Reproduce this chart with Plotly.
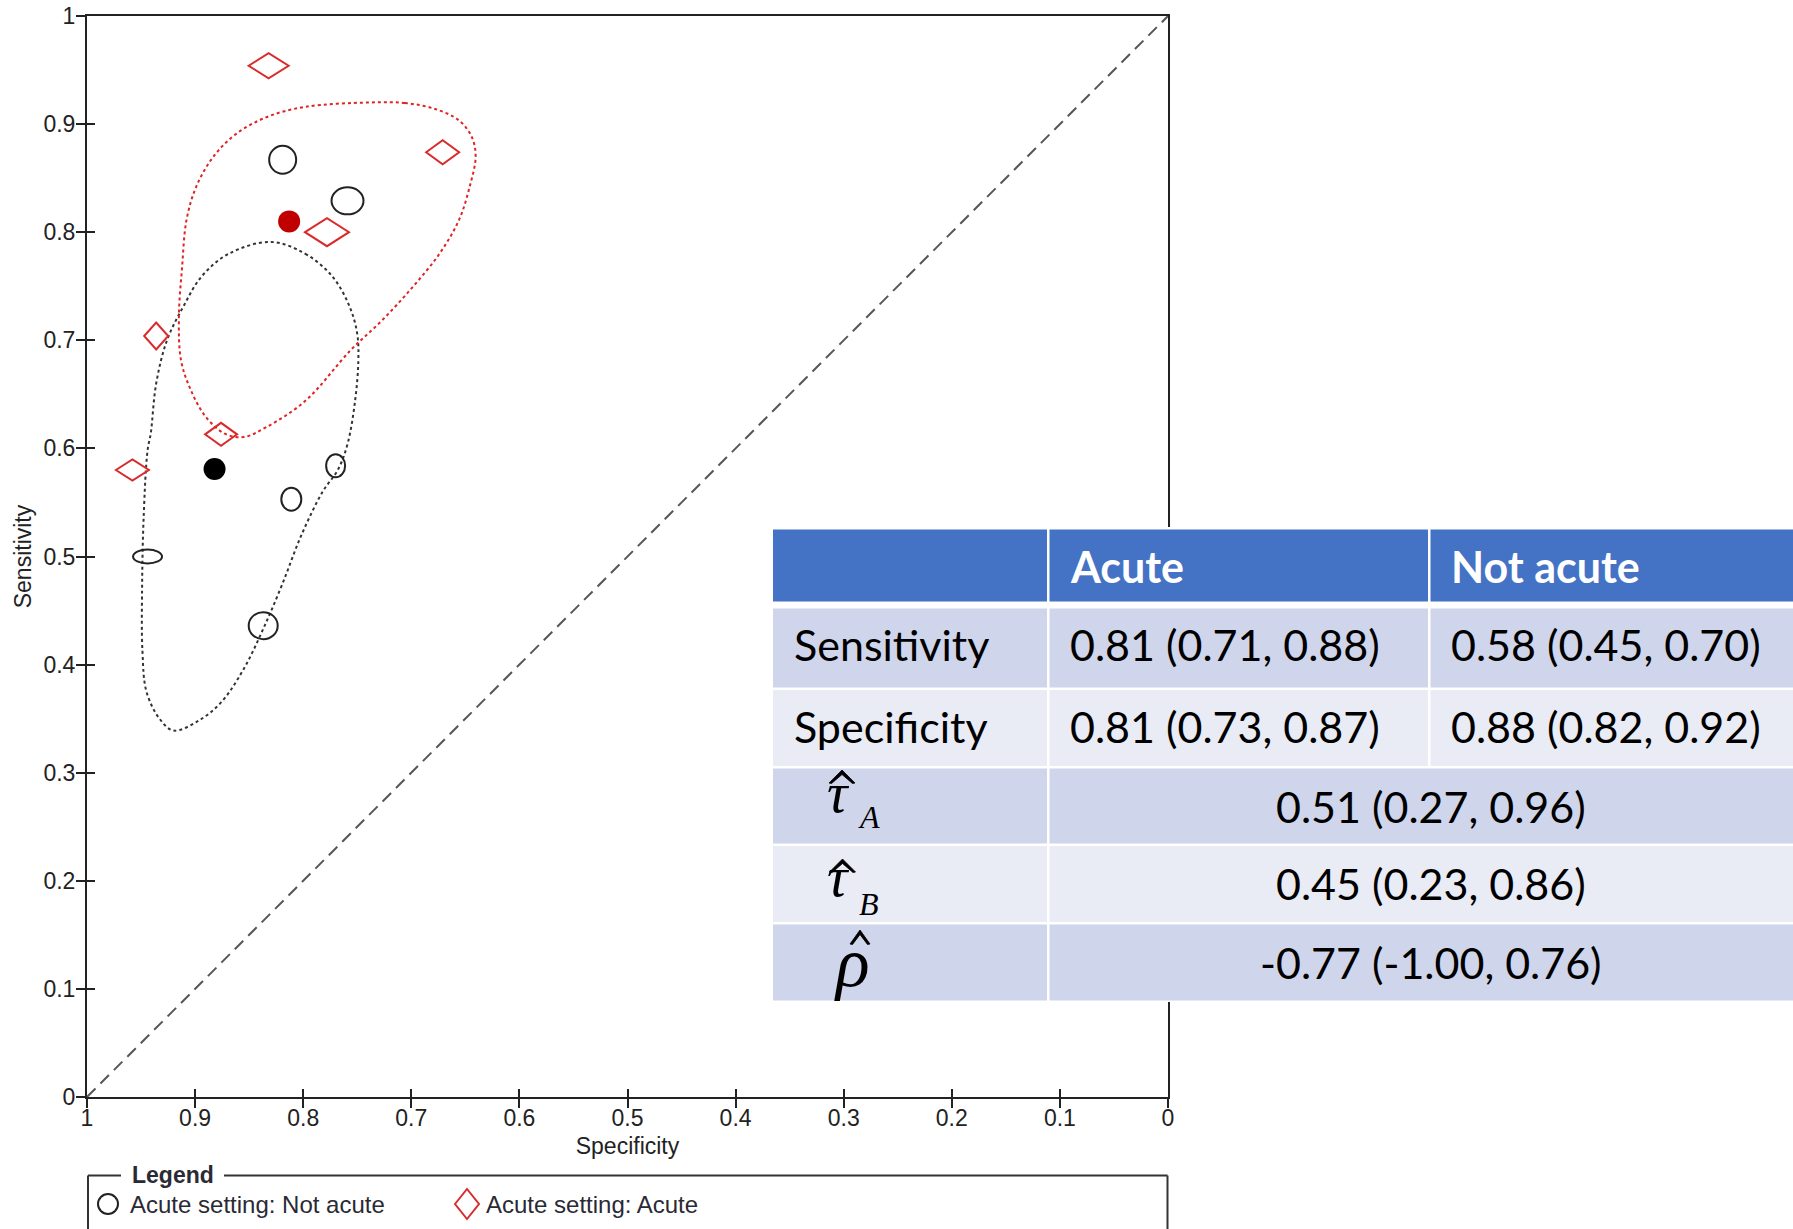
import plotly.graph_objects as go

# ---------------- data ----------------
tick_vals = [0, 0.1, 0.2, 0.3, 0.4, 0.5, 0.6, 0.7, 0.8, 0.9, 1.0]
tick_text = ["0", "0.1", "0.2", "0.3", "0.4", "0.5", "0.6", "0.7", "0.8", "0.9", "1"]

# individual studies, setting = Not acute (open ellipses)
not_acute_spec = [0.819, 0.759, 0.770, 0.811, 0.944, 0.837]
not_acute_sens = [0.867, 0.829, 0.584, 0.553, 0.500, 0.436]

# individual studies, setting = Acute (open diamonds)
acute_spec = [0.832, 0.671, 0.778, 0.936, 0.876, 0.958]
acute_sens = [0.954, 0.874, 0.800, 0.704, 0.613, 0.580]

# summary points
summary_names = ["Summary: Not acute", "Summary: Acute"]
summary_spec = [0.882, 0.813]
summary_sens = [0.581, 0.810]

# 95% confidence regions
region_not_acute_spec = [0.830, 0.798, 0.773, 0.757, 0.750, 0.749, 0.752, 0.759, 0.768, 0.782,
                         0.802, 0.8195, 0.837, 0.855, 0.876, 0.897, 0.920, 0.933, 0.945, 0.9487,
                         0.949, 0.9476, 0.944, 0.941, 0.936, 0.926, 0.911, 0.894, 0.869]
region_not_acute_sens = [0.791, 0.780, 0.759, 0.731, 0.706, 0.681, 0.644, 0.604, 0.580, 0.560,
                         0.519, 0.474, 0.433, 0.396, 0.365, 0.348, 0.339, 0.350, 0.375, 0.412,
                         0.474, 0.536, 0.598, 0.614, 0.660, 0.700, 0.731, 0.759, 0.780]

region_acute_spec = [0.738, 0.706, 0.678, 0.656, 0.644, 0.6405, 0.646, 0.656, 0.674, 0.699,
                     0.727, 0.756, 0.798, 0.8335, 0.855, 0.8725, 0.890, 0.904, 0.913, 0.915,
                     0.912, 0.908, 0.899, 0.883, 0.862, 0.8335, 0.798]
region_acute_sens = [0.920, 0.9195, 0.914, 0.9035, 0.888, 0.870, 0.842, 0.811, 0.780, 0.749,
                     0.7185, 0.691, 0.644, 0.620, 0.6105, 0.6136, 0.629, 0.654, 0.6815, 0.7216,
                     0.768, 0.811, 0.842, 0.870, 0.891, 0.9066, 0.916]

# chance line
diag_spec = [1.0, 0.0]
diag_sens = [0.0, 1.0]

# results table
table_header = ["", "Acute", "Not acute"]
table_row_labels = ["Sensitivity", "Specificity"]
table_acute = ["0.81 (0.71, 0.88)", "0.81 (0.73, 0.87)"]
table_not_acute = ["0.58 (0.45, 0.70)", "0.88 (0.82, 0.92)"]
param_symbols = ["τ", "τ", "ρ"]
param_subscripts = ["A", "B", ""]
param_values = ["0.51 (0.27, 0.96)", "0.45 (0.23, 0.86)", "-0.77 (-1.00, 0.76)"]

legend_title = "Legend"
legend_labels = ["Acute setting: Not acute", "Acute setting: Acute"]

# ---------------- styling / geometry ----------------
not_acute_marker_w = [27, 32, 19, 20, 29, 29]   # px
not_acute_marker_h = [28, 27, 23, 23, 14, 27]
acute_marker_w = [40, 33, 44, 24, 32, 33]
acute_marker_h = [25, 24, 28, 27, 23, 21]

FIG_W, FIG_H = 1793, 1229
ML, MT, PW, PH = 87, 16, 1081, 1081
MR, MB = FIG_W - ML - PW, FIG_H - MT - PH

AX_COLOR = "#222222"
RED = "#d92b2b"
FONT = "Liberation Sans, Arial, sans-serif"
TFONT = "Lato, Open Sans, sans-serif"
SERIF = "Liberation Serif, Times New Roman, serif"


def pxx(X):  # page x pixel -> paper
    return (X - ML) / PW


def pxy(Y):  # page y pixel -> paper
    return (MT + PH - Y) / PH


fig = go.Figure()

# chance diagonal (on overlay axes that carry the inner half of the ticks)
fig.add_trace(go.Scatter(x=diag_spec, y=diag_sens, mode="lines", xaxis="x2", yaxis="y2",
                         line=dict(color="#555555", width=2, dash="12px,7px"),
                         hoverinfo="skip", showlegend=False))

# confidence regions
for sx, sy, col in [(region_not_acute_spec, region_not_acute_sens, "#333333"),
                    (region_acute_spec, region_acute_sens, "#e02424")]:
    fig.add_trace(go.Scatter(x=sx + sx[:1], y=sy + sy[:1], mode="lines",
                             line=dict(color=col, width=2, dash="dot", shape="spline", smoothing=1.0),
                             hoverinfo="skip", showlegend=False))

# study points (hover carriers; visible outlines are drawn as shapes below)
fig.add_trace(go.Scatter(x=not_acute_spec, y=not_acute_sens, mode="markers",
                         name=legend_labels[0], marker=dict(size=22, color="rgba(0,0,0,0)"),
                         showlegend=False))
fig.add_trace(go.Scatter(x=acute_spec, y=acute_sens, mode="markers",
                         name=legend_labels[1], marker=dict(size=22, color="rgba(0,0,0,0)"),
                         showlegend=False))

# summary points
fig.add_trace(go.Scatter(x=summary_spec, y=summary_sens, mode="markers",
                         text=summary_names, hoverinfo="text+x+y",
                         marker=dict(size=22, color=["#000000", "#c00000"], line=dict(width=0)),
                         showlegend=False))

shapes = []
# study ellipses
for s, se, w, h in zip(not_acute_spec, not_acute_sens, not_acute_marker_w, not_acute_marker_h):
    shapes.append(dict(type="circle", xref="x", yref="y",
                       x0=s - w / 2 / PW, x1=s + w / 2 / PW,
                       y0=se - h / 2 / PH, y1=se + h / 2 / PH,
                       line=dict(color="#222222", width=2), fillcolor="rgba(0,0,0,0)"))
# study diamonds
for s, se, w, h in zip(acute_spec, acute_sens, acute_marker_w, acute_marker_h):
    dx, dy = w / 2 / PW, h / 2 / PH
    path = f"M {s + dx},{se} L {s},{se + dy} L {s - dx},{se} L {s},{se - dy} Z"
    shapes.append(dict(type="path", xref="x", yref="y", path=path,
                       line=dict(color=RED, width=2), fillcolor="rgba(0,0,0,0)"))

# ---------------- legend box ----------------
LC = "#333333"
shapes += [
    dict(type="line", xref="paper", yref="paper", x0=pxx(88), x1=pxx(121), y0=pxy(1175.5), y1=pxy(1175.5),
         line=dict(color=LC, width=2)),
    dict(type="line", xref="paper", yref="paper", x0=pxx(224), x1=pxx(1167.5), y0=pxy(1175.5), y1=pxy(1175.5),
         line=dict(color=LC, width=2)),
    dict(type="line", xref="paper", yref="paper", x0=pxx(88), x1=pxx(88), y0=pxy(1175.5), y1=pxy(1260),
         line=dict(color=LC, width=2)),
    dict(type="line", xref="paper", yref="paper", x0=pxx(1167.5), x1=pxx(1167.5), y0=pxy(1175.5), y1=pxy(1260),
         line=dict(color=LC, width=2)),
    dict(type="circle", xref="paper", yref="paper", x0=pxx(98), x1=pxx(118), y0=pxy(1214), y1=pxy(1194),
         line=dict(color="#222222", width=2)),
    dict(type="path", xref="paper", yref="paper",
         path=f"M {pxx(455)},{pxy(1204)} L {pxx(467)},{pxy(1189)} L {pxx(479)},{pxy(1204)} L {pxx(467)},{pxy(1219)} Z",
         line=dict(color=RED, width=2)),
]

# ---------------- table ----------------
HEAD = "#4472C4"
ODD = "#CFD5EA"
EVEN = "#E9EBF5"
cols = [(773, 1047), (1049.5, 1428), (1430.5, 1840)]
merged = (1049.5, 1840)
rows = [(529.5, 601.5, HEAD), (608.5, 687.5, ODD), (690, 766, EVEN),
        (768.5, 843.5, ODD), (846, 922, EVEN), (924.5, 1000.5, ODD)]


def rect(x0, x1, y0, y1, color):
    return dict(type="rect", xref="paper", yref="paper", layer="above",
                x0=pxx(x0), x1=pxx(x1), y0=pxy(y1), y1=pxy(y0),
                fillcolor=color, line=dict(width=0))


shapes.append(rect(770, 1840, 527, 1002, "#ffffff"))
for i, (y0, y1, c) in enumerate(rows):
    if i <= 2:
        for (x0, x1) in cols:
            shapes.append(rect(x0, x1, y0, y1, c))
    else:
        shapes.append(rect(cols[0][0], cols[0][1], y0, y1, c))
        shapes.append(rect(merged[0], merged[1], y0, y1, c))


# circumflex ("hat") accents over the estimated parameters
def hat(cx, top, w=26, h=13, t=4.5):
    pts = [(cx - w / 2, top + h), (cx, top), (cx + w / 2, top + h),
           (cx + w / 2 - 2.5, top + h + 0.5), (cx, top + t), (cx - w / 2 + 2.5, top + h + 0.5)]
    d = "M " + " L ".join(f"{pxx(x)},{pxy(y)}" for x, y in pts) + " Z"
    return dict(type="path", xref="paper", yref="paper", layer="above", path=d,
                fillcolor="#000000", line=dict(color="#000000", width=0.8))


shapes += [hat(842, 770), hat(842.5, 859), hat(860, 930, w=20, h=14)]

annotations = []


def ann(text, X, Y, size, family=TFONT, color="#000000", xanchor="left", **kw):
    annotations.append(dict(text=text, x=pxx(X), y=pxy(Y), xref="paper", yref="paper",
                            showarrow=False, xanchor=xanchor, yanchor="middle",
                            font=dict(family=family, size=size, color=color), **kw))


# header
ann("<b>" + table_header[1] + "</b>", 1068, 566, 43, color="#ffffff")
ann("<b>" + table_header[2] + "</b>", 1449, 566, 43, color="#ffffff")
# sens / spec rows
row_y = [644, 726]
for lab, a, na, y in zip(table_row_labels, table_acute, table_not_acute, row_y):
    ann(lab, 792, y, 43)
    ann(a, 1068, y, 43)
    ann(na, 1449, y, 43)
# parameter rows
val_y = [806, 884, 962]
for v, y in zip(param_values, val_y):
    ann(v, 1431, y, 43, xanchor="center")

# estimated parameters: symbol, then subscript placed right after it
sym_pos = [(827, 792, 57), (827, 876, 57), (834, 962, 70)]
sub_pos = [(858, 817), (859, 904)]
for i, (sym, (X, Y, fs)) in enumerate(zip(param_symbols, sym_pos)):
    ann("<i>" + sym + "</i>", X, Y, fs, family=SERIF, borderpad=0, borderwidth=0)
    if param_subscripts[i]:
        sx, sy = sub_pos[i]
        ann("<i>" + param_subscripts[i] + "</i>", sx, sy, 32, family=SERIF, borderpad=0, borderwidth=0)

# legend texts
ann("<b>" + legend_title + "</b>", 130, 1175, 23, family=FONT, color="#2a2a35")
ann(legend_labels[0], 128, 1204, 24, family=FONT, color="#2a2a35")
ann(legend_labels[1], 484, 1204, 24, family=FONT, color="#2a2a35")

axis_common = dict(showgrid=False, zeroline=False, tickvals=tick_vals, ticktext=tick_text,
                   tickfont=dict(family=FONT, size=23, color="#222222"),
                   ticklabeloverflow="allow", automargin=False)

fig.update_layout(
    width=FIG_W, height=FIG_H, autosize=False,
    margin=dict(l=ML, r=MR, t=MT, b=MB, pad=0),
    paper_bgcolor="white", plot_bgcolor="white",
    font=dict(family=FONT, size=23, color="#222222"),
    xaxis=dict(range=[1, 0], domain=[0, 1], showline=True, mirror=True, linecolor=AX_COLOR,
               linewidth=2, ticks="outside", ticklen=9, tickwidth=2, tickcolor=AX_COLOR,
               ticklabelstandoff=-10,
               title=dict(text="Specificity", font=dict(family=FONT, size=23, color="#222222"), standoff=8),
               **axis_common),
    yaxis=dict(range=[0, 1], domain=[0, 1], showline=True, mirror=True, linecolor=AX_COLOR,
               linewidth=2, ticks="outside", ticklen=9, tickwidth=2, tickcolor=AX_COLOR,
               ticklabelstandoff=-4,
               title=dict(text="Sensitivity", font=dict(family=FONT, size=23, color="#222222"), standoff=5),
               **axis_common),
    xaxis2=dict(range=[1, 0], overlaying="x", anchor="y2", side="bottom", showline=False,
                ticks="inside", ticklen=8, tickwidth=2, tickcolor=AX_COLOR, showticklabels=False,
                showgrid=False, zeroline=False, tickvals=tick_vals, automargin=False),
    yaxis2=dict(range=[0, 1], overlaying="y", anchor="x2", side="left", showline=False,
                ticks="inside", ticklen=8, tickwidth=2, tickcolor=AX_COLOR, showticklabels=False,
                showgrid=False, zeroline=False, tickvals=tick_vals, automargin=False),
    shapes=shapes,
    annotations=annotations,
    showlegend=False,
)

# the page body has a default 8px margin; remove it so the figure fills the window exactly
fig.write_html("out.html", config={"displayModeBar": False},
               post_script="document.body.style.margin='0px';document.body.style.overflow='hidden';")
